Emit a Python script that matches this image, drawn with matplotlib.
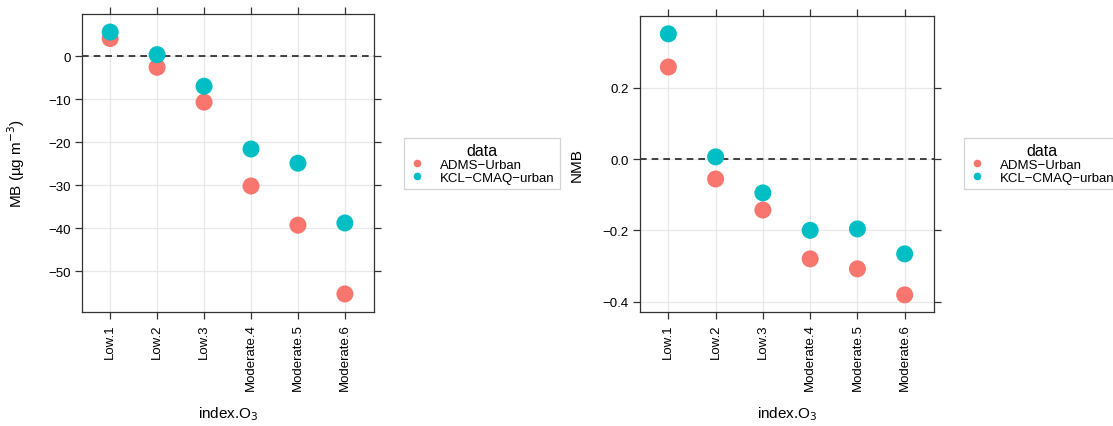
import matplotlib
matplotlib.use("Agg")
from matplotlib import pyplot as plt
from matplotlib.lines import Line2D

plt.rcParams["font.family"] = ["Liberation Sans", "DejaVu Sans"]

categories = ["Low.1", "Low.2", "Low.3", "Moderate.4", "Moderate.5", "Moderate.6"]
series_names = ["ADMS\u2212Urban", "KCL\u2212CMAQ\u2212urban"]
colors = ["#F8766D", "#00BFC4"]

mb_adms = [4.1, -2.6, -10.7, -30.2, -39.3, -55.3]
mb_kcl = [5.6, 0.35, -7.0, -21.6, -24.9, -38.8]
nmb_adms = [0.258, -0.056, -0.143, -0.280, -0.308, -0.381]
nmb_kcl = [0.351, 0.006, -0.095, -0.200, -0.196, -0.266]

mb_ticks = [0, -10, -20, -30, -40, -50]
mb_ticklabels = ["0", "\u221210", "\u221220", "\u221230", "\u221240", "\u221250"]
nmb_ticks = [0.2, 0.0, -0.2, -0.4]
nmb_ticklabels = ["0.2", "0.0", "\u22120.2", "\u22120.4"]

W, H = 1113, 427
fig = plt.figure(figsize=(W / 100, H / 100), dpi=100, facecolor="white")

FS = 9.5


def px_axes(x0, y0, x1, y1):
    return fig.add_axes([x0 / W, 1 - y1 / H, (x1 - x0) / W, (y1 - y0) / H])


def style_panel(ax, values, ylim, yticks, yticklabels, ylabel, legend_x):
    xs = list(range(1, len(categories) + 1))
    ax.set_axisbelow(True)
    for xv in xs:
        ax.axvline(xv, color="#e8e8e8", linewidth=0.9, zorder=0)
    for yv in yticks:
        ax.axhline(yv, color="#e8e8e8", linewidth=0.9, zorder=0)
    ax.axhline(0, color="#222222", linewidth=1.2, linestyle=(0, (4, 3)), zorder=1)
    for vals, col in zip(values, colors):
        ax.scatter(xs, vals, s=150, color=col, edgecolors="none", zorder=3)
    ax.set_xlim(0.4, 6.62)
    ax.set_ylim(*ylim)
    ax.set_xticks(xs)
    ax.set_xticklabels(categories, rotation=90, fontsize=FS)
    ax.set_yticks(yticks)
    ax.set_yticklabels(yticklabels, fontsize=FS)
    ax.tick_params(axis="both", direction="out", length=5, width=0.9, color="#333333",
                   top=True, right=True, labeltop=False, labelright=False, pad=3)
    for sp in ax.spines.values():
        sp.set_color("#333333")
        sp.set_linewidth(0.9)
    ax.set_ylabel(ylabel, fontsize=11)
    ax.yaxis.set_label_coords(-0.19, 0.5)
    ax.set_xlabel("index.O$_3$", fontsize=11, labelpad=10)
    handles = [Line2D([], [], marker="o", linestyle="none", markersize=5.5,
                      markerfacecolor=c, markeredgecolor="none") for c in colors]
    leg = ax.legend(handles, series_names, title="data", loc="center left",
                    bbox_to_anchor=(legend_x / W, 1 - 164.5 / H), bbox_transform=fig.transFigure,
                    fontsize=FS, title_fontsize=11.5, frameon=True, fancybox=False,
                    handlelength=1.2, handletextpad=1.2, labelspacing=0.05,
                    borderpad=0.35, borderaxespad=0)
    leg.get_frame().set_edgecolor("#c8c8c8")
    leg.get_frame().set_linewidth(0.9)


ax1 = px_axes(82, 15, 374, 313)
style_panel(ax1, [mb_adms, mb_kcl], (-59.5, 9.8), mb_ticks, mb_ticklabels,
            "MB (\u00b5g m$^{-3}$)", 404)

ax2 = px_axes(640, 17, 934, 313)
style_panel(ax2, [nmb_adms, nmb_kcl], (-0.429, 0.401), nmb_ticks, nmb_ticklabels,
            "NMB", 964)

fig.savefig("out.png", dpi=100, facecolor="white")
